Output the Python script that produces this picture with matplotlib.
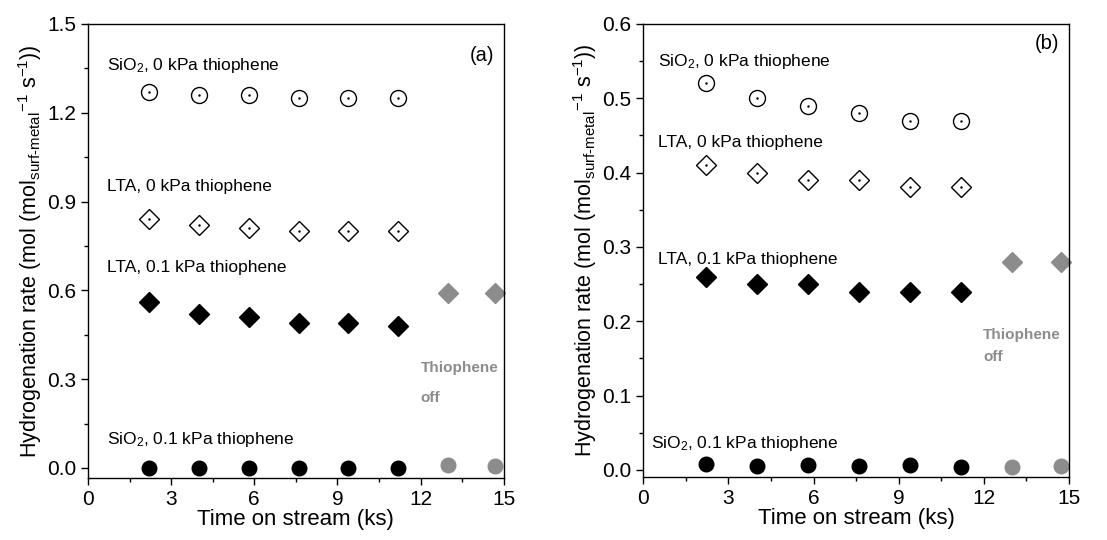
import numpy as np
import matplotlib.pyplot as plt
from matplotlib.ticker import MultipleLocator

plt.rcParams['font.family'] = ['Liberation Sans', 'DejaVu Sans']
plt.rcParams['mathtext.fontset'] = 'custom'
plt.rcParams['mathtext.rm'] = 'Liberation Sans'
plt.rcParams['mathtext.it'] = 'Liberation Sans'

# time on stream (ks)
t_on = [2.2, 4.0, 5.8, 7.6, 9.4, 11.2]
t_off = [13.0, 14.7]

# (a)
a_sio2_0 = [1.27, 1.26, 1.26, 1.25, 1.25, 1.25]
a_lta_0 = [0.84, 0.82, 0.81, 0.80, 0.80, 0.80]
a_lta_01 = [0.56, 0.52, 0.51, 0.49, 0.49, 0.48]
a_sio2_01 = [0.0, 0.0, 0.0, 0.0, 0.0, 0.0]
a_lta_off = [0.59, 0.59]
a_sio2_off = [0.01, 0.005]

# (b)
b_sio2_0 = [0.52, 0.50, 0.49, 0.48, 0.47, 0.47]
b_lta_0 = [0.41, 0.40, 0.39, 0.39, 0.38, 0.38]
b_lta_01 = [0.26, 0.25, 0.25, 0.24, 0.24, 0.24]
b_sio2_01 = [0.008, 0.005, 0.006, 0.005, 0.006, 0.004]
b_lta_off = [0.28, 0.28]
b_sio2_off = [0.004, 0.005]

grey = '#8c8c8c'
ylab = r"Hydrogenation rate (mol (mol$_{\text{surf-metal}}$$^{\mathregular{-1}}$ s$^{\mathregular{-1}}$))"

fig = plt.figure(figsize=(11.07, 5.4), dpi=100)
ax1 = fig.add_axes([0.0795, 0.1148, 0.3755, 0.8408])
ax2 = fig.add_axes([0.581, 0.1167, 0.3847, 0.8389])


def draw(ax, s0, l0, l01, s01, loff, soff):
    # open symbols with a dot in the middle
    ax.plot(t_on, s0, 'o', ms=11.5, mfc='none', mec='k', mew=1.0)
    ax.plot(t_on, s0, '.', ms=1.5, color='k')
    ax.plot(t_on, l0, 'D', ms=10, mfc='none', mec='k', mew=1.0)
    ax.plot(t_on, l0, '.', ms=1.5, color='k')
    ax.plot(t_on, l01, 'D', ms=10, color='k')
    ax.plot(t_on, s01, 'o', ms=10.5, color='k')
    ax.plot(t_off, loff, 'D', ms=10, color=grey, clip_on=False)
    ax.plot(t_off, soff, 'o', ms=10.5, color=grey, clip_on=False)
    ax.set_xlim(0, 15)
    ax.xaxis.set_major_locator(MultipleLocator(3))
    ax.xaxis.set_minor_locator(MultipleLocator(1.5))
    ax.tick_params(which='both', direction='out', labelsize=15, width=1)
    ax.tick_params(which='major', length=5)
    ax.tick_params(which='minor', length=3)
    ax.set_xlabel('Time on stream (ks)', fontsize=16, labelpad=0)
    ax.set_ylabel(ylab, fontsize=15.5, labelpad=2)
    for sp in ax.spines.values():
        sp.set_linewidth(1.0)


draw(ax1, a_sio2_0, a_lta_0, a_lta_01, a_sio2_01, a_lta_off, a_sio2_off)
ax1.set_ylim(-0.034, 1.5)
ax1.yaxis.set_major_locator(MultipleLocator(0.3))
ax1.yaxis.set_minor_locator(MultipleLocator(0.15))
ax1.set_yticklabels([f'{v:.1f}' for v in ax1.get_yticks()])
ax1.set_ylim(-0.034, 1.5)
fs = 12.5
ax1.text(0.69, 1.36, r'SiO$_2$, 0 kPa thiophene', fontsize=fs, va='center')
ax1.text(0.69, 0.95, 'LTA, 0 kPa thiophene', fontsize=fs, va='center')
ax1.text(0.69, 0.676, 'LTA, 0.1 kPa thiophene', fontsize=fs, va='center')
ax1.text(0.69, 0.095, r'SiO$_2$, 0.1 kPa thiophene', fontsize=fs, va='center')
ax1.text(12.0, 0.338, 'Thiophene', fontsize=11, color=grey, weight='bold', va='center')
ax1.text(12.0, 0.236, 'off', fontsize=11, color=grey, weight='bold', va='center')
ax1.text(14.65, 1.395, '(a)', fontsize=14.5, ha='right', va='center')

draw(ax2, b_sio2_0, b_lta_0, b_lta_01, b_sio2_01, b_lta_off, b_sio2_off)
ax2.set_ylim(-0.0095, 0.6)
ax2.yaxis.set_major_locator(MultipleLocator(0.1))
ax2.yaxis.set_minor_locator(MultipleLocator(0.05))
ax2.set_yticklabels([f'{v:.1f}' for v in ax2.get_yticks()])
ax2.set_ylim(-0.0095, 0.6)
ax2.text(0.53, 0.549, r'SiO$_2$, 0 kPa thiophene', fontsize=fs, va='center')
ax2.text(0.53, 0.44, 'LTA, 0 kPa thiophene', fontsize=fs, va='center')
ax2.text(0.53, 0.2825, 'LTA, 0.1 kPa thiophene', fontsize=fs, va='center')
ax2.text(0.28, 0.036, r'SiO$_2$, 0.1 kPa thiophene', fontsize=fs, va='center')
ax2.text(11.97, 0.182, 'Thiophene', fontsize=11, color=grey, weight='bold', va='center')
ax2.text(11.97, 0.152, 'off', fontsize=11, color=grey, weight='bold', va='center')
ax2.text(14.65, 0.574, '(b)', fontsize=14.5, ha='right', va='center')

fig.savefig('out.png', dpi=100)
